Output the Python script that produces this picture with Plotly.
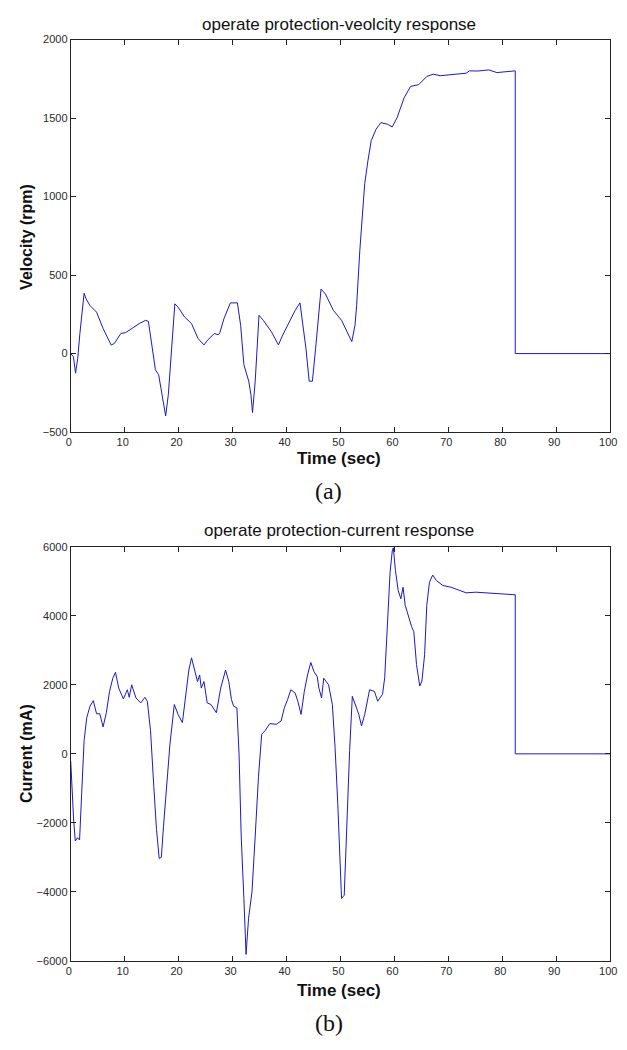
import plotly.graph_objects as go

# ---- Data ----
vel_t = [0, 0.5, 0.9, 1.3, 1.7, 2.1, 2.48, 2.85, 3.58, 4.79, 6.0, 7.5, 8.1, 9.3, 10.2, 12.7, 13.9, 14.4,
         15.1, 15.7, 16.3, 16.9, 17.6, 18.1, 18.7, 19.3, 19.9, 21.1, 22.4, 23.6, 24.7, 25.4, 26.6, 27.3,
         27.6, 28.4, 29.6, 30.9, 31.5, 32.1, 33.0, 33.4, 33.7, 34.2, 34.9, 35.7, 37.2, 38.5, 39.3, 40.5,
         41.6, 42.5, 43.0, 43.6, 44.2, 44.8, 45.4, 46.4, 47.2, 48.7, 50.2, 51.3, 52.1, 52.7, 53.0, 53.6,
         54.2, 54.5, 55.1, 55.7, 56.6, 57.5, 58.7, 59.6, 60.5, 61.8, 63.0, 64.5, 66.0, 67.2, 68.5, 70.2,
         71.5, 73.3, 73.9, 75.5, 77.5, 79.0, 80.5, 82.4, 82.4, 100]
vel_v = [0, -20, -125, -30, 128, 250, 384, 348, 306, 264, 160, 54, 65, 128, 134, 191, 212, 205,
         34, -103, -135, -260, -397, -260, 34, 317, 296, 233, 191, 96, 55, 86, 128, 120,
         128, 222, 323, 323, 180, -71, -176, -260, -376, -176, 244, 212, 139, 55, 118, 202,
         275, 323, 202, 34, -176, -176, 34, 411, 380, 275, 212, 139, 76, 181, 307, 663,
         978, 1083, 1230, 1356, 1429, 1471, 1461, 1444, 1503, 1629, 1702, 1713, 1765, 1780, 1770, 1776,
         1782, 1786, 1801, 1800, 1807, 1790, 1795, 1801, 0, 0]

cur_t = [0, 0.24, 0.55, 0.85, 1.27, 1.64, 1.88, 2.18, 2.48, 2.97, 3.58, 4.18, 4.79, 5.39, 6.0, 6.6, 7.2,
         7.8, 8.3, 8.9, 9.76, 10.5, 10.85, 11.3, 12.1, 12.97, 13.76, 14.2, 14.8, 15.4, 15.9, 16.4, 16.8,
         17.2, 17.8, 18.4, 19.2, 19.9, 20.7, 21.3, 21.9, 22.4, 22.9, 23.5, 23.9, 24.2, 24.7, 25.3, 26.0,
         26.6, 27.0, 27.8, 28.7, 29.3, 29.8, 30.2, 30.8, 31.2, 31.6, 32.1, 32.4, 32.5, 32.97, 33.6, 34.2,
         34.8, 35.4, 36.0, 36.9, 38.1, 39.0, 39.6, 40.2, 40.8, 41.6, 42.1, 42.7, 43.3, 43.9, 44.5, 45.1,
         45.7, 46.0, 46.5, 46.9, 47.8, 48.5, 49.0, 49.5, 49.9, 50.2, 50.7, 51.1, 51.7, 52.2, 52.8, 53.4,
         53.9, 54.5, 55.4, 56.3, 56.9, 57.8, 58.2, 58.7, 59.2, 59.6, 59.8, 60.2, 60.7, 61.2, 61.6, 62.0,
         62.7, 63.2, 63.6, 64.1, 64.7, 65.1, 65.6, 66.0, 66.5, 67.1, 67.8, 69.0, 70.5, 71.8, 73.3, 75.1,
         76.9, 79.3, 80.5, 82.4, 82.4, 100]
cur_i = [-200, -1143, -1952, -2524, -2429, -2495, -1619, -667, 381, 1048, 1381, 1543, 1162, 1162, 781, 1190, 1810,
         2190, 2362, 1905, 1590, 1857, 1638, 2000, 1619, 1476, 1638, 1524, 667, -952, -2190, -3029, -3000,
         -2095, -857, 286, 1429, 1143, 905, 1619, 2429, 2781, 2476, 2095, 2286, 1905, 2095, 1476, 1429,
         1286, 1190, 1905, 2429, 2095, 1571, 1381, 1333, 0, -2381, -4190, -5238, -5810, -4762, -4000, -2381,
         -667, 571, 667, 876, 857, 952, 1333, 1571, 1857, 1762, 1524, 1143, 1810, 2286, 2648, 2381,
         2238, 1905, 1619, 2190, 2000, 1429, 190, -1429, -3143, -4190, -4095, -2381, 95, 1667, 1429, 1143,
         810, 1143, 1857, 1810, 1524, 1727, 2204, 3826, 5257, 5877, 5970, 5304, 4732, 4493, 4827, 4303,
         3921, 3682, 3539, 2585, 1965, 2108, 2871, 4303, 4970, 5180, 5018, 4875, 4827, 4761, 4665, 4684,
         4665, 4636, 4608, 4608, 0, 0]

x_ticks = [0, 10, 20, 30, 40, 50, 60, 70, 80, 90, 100]
vel_ticks = [-500, 0, 500, 1000, 1500, 2000]
cur_ticks = [-6000, -4000, -2000, 0, 2000, 4000, 6000]

W, H = 627, 1050
LINE = "#1a1ac4"
TICKFONT = dict(family="Liberation Sans, Arial, sans-serif", size=11, color="#2a2a2a")

fig = go.Figure()
fig.add_trace(go.Scatter(x=vel_t, y=vel_v, mode="lines", line=dict(color=LINE, width=1),
                         xaxis="x", yaxis="y", showlegend=False, hoverinfo="skip"))
fig.add_trace(go.Scatter(x=cur_t, y=cur_i, mode="lines", line=dict(color=LINE, width=1),
                         xaxis="x2", yaxis="y2", showlegend=False, hoverinfo="skip"))

def px_x(p):
    return p / W

def px_y(p):
    return 1 - p / H

axis_common = dict(showline=True, linecolor="#222", linewidth=1, mirror="ticks", ticks="inside",
                   ticklen=5, tickcolor="#222", tickwidth=1, showgrid=False, zeroline=False,
                   tickfont=TICKFONT)
xaxis_extra = dict(ticklabelshift=-2)

xd = [px_x(67), px_x(617)]
fig.update_layout(
    width=W, height=H, margin=dict(l=0, r=0, t=0, b=0),
    paper_bgcolor="white", plot_bgcolor="white",
    xaxis=dict(domain=xd, range=[0, 100], tickvals=x_ticks, anchor="y", **axis_common, **xaxis_extra),
    yaxis=dict(domain=[px_y(431), px_y(34)], range=[-500, 2000], tickvals=vel_ticks, anchor="x",
               **axis_common),
    xaxis2=dict(domain=xd, range=[0, 100], tickvals=x_ticks, anchor="y2", **axis_common, **xaxis_extra),
    yaxis2=dict(domain=[px_y(966), px_y(547)], range=[-6000, 6000], tickvals=cur_ticks, anchor="x2",
                **axis_common),
)

sans = "Liberation Sans, Arial, sans-serif"
serif = "Liberation Serif, Times New Roman, serif"
ann = [
    dict(text="operate protection-veolcity response", x=px_x(341), y=px_y(19), font=dict(family=sans, size=17, color="#111")),
    dict(text="operate protection-current response", x=px_x(341), y=px_y(531), font=dict(family=sans, size=17, color="#111")),
    dict(text="<b>Time (sec)</b>", x=px_x(341), y=px_y(458), font=dict(family=sans, size=17, color="#111")),
    dict(text="<b>Time (sec)</b>", x=px_x(341), y=px_y(996), font=dict(family=sans, size=17, color="#111")),
    dict(text="<b>Velocity (rpm)</b>", x=px_x(22), y=px_y(234), textangle=-90, font=dict(family=sans, size=16, color="#111")),
    dict(text="<b>Current (mA)</b>", x=px_x(22), y=px_y(756), textangle=-90, font=dict(family=sans, size=16, color="#111")),
    dict(text="(a)", x=px_x(330), y=px_y(491), font=dict(family=serif, size=24, color="#111")),
    dict(text="(b)", x=px_x(330), y=px_y(1029), font=dict(family=serif, size=24, color="#111")),
]
for a in ann:
    fig.add_annotation(xref="paper", yref="paper", showarrow=False, xanchor="center", yanchor="middle", **a)

fig.write_html(
    "out.html",
    config={"displayModeBar": False},
    post_script="document.documentElement.style.margin='0';document.body.style.margin='0';"
                "document.body.style.padding='0';document.body.style.overflow='hidden';",
)
